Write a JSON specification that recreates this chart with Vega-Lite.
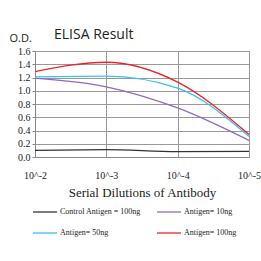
{
  "$schema": "https://vega.github.io/schema/vega-lite/v6.json",
  "width": 214,
  "height": 106,
  "autosize": {"type": "none"},
  "padding": {"left": 35, "top": 51, "right": 12, "bottom": 104},
  "background": "white",
  "title": {"text": "ELISA Result", "font": "Open Sans", "fontSize": 14, "fontWeight": "normal", "color": "#222", "anchor": "start", "dx": 45, "offset": -10},
  "data": {"values": [
    {"d": "10^-2", "s": "Control Antigen = 100ng", "v": 0.10},
    {"d": "10^-3", "s": "Control Antigen = 100ng", "v": 0.11},
    {"d": "10^-4", "s": "Control Antigen = 100ng", "v": 0.08},
    {"d": "10^-5", "s": "Control Antigen = 100ng", "v": 0.085},
    {"d": "10^-2", "s": "Antigen= 10ng", "v": 1.19},
    {"d": "10^-3", "s": "Antigen= 10ng", "v": 1.06},
    {"d": "10^-4", "s": "Antigen= 10ng", "v": 0.74},
    {"d": "10^-5", "s": "Antigen= 10ng", "v": 0.25},
    {"d": "10^-2", "s": "Antigen= 50ng", "v": 1.21},
    {"d": "10^-3", "s": "Antigen= 50ng", "v": 1.22},
    {"d": "10^-4", "s": "Antigen= 50ng", "v": 1.04},
    {"d": "10^-5", "s": "Antigen= 50ng", "v": 0.31},
    {"d": "10^-2", "s": "Antigen= 100ng", "v": 1.29},
    {"d": "10^-3", "s": "Antigen= 100ng", "v": 1.43},
    {"d": "10^-4", "s": "Antigen= 100ng", "v": 1.13},
    {"d": "10^-5", "s": "Antigen= 100ng", "v": 0.34}
  ]},
  "mark": {"type": "line", "interpolate": "monotone", "strokeWidth": 1.3},
  "encoding": {
    "x": {"field": "d", "type": "ordinal", "sort": null,
      "scale": {"type": "point", "padding": 0},
      "axis": {"title": "Serial Dilutions of Antibody", "titleFont": "Liberation Serif", "titleFontSize": 13, "titleFontWeight": "normal", "titleColor": "#222", "titlePadding": 6,
        "labelFont": "Liberation Serif", "labelFontSize": 10, "labelColor": "#222", "labelAngle": 0, "labelPadding": 13,
        "grid": true, "gridColor": "#999", "domainColor": "#888", "ticks": false}},
    "y": {"field": "v", "type": "quantitative",
      "scale": {"domain": [0, 1.6], "nice": false},
      "axis": {"title": "O.D.", "titleAngle": 0, "titleX": -26, "titleY": -13, "titleAlign": "left", "titleBaseline": "middle", "titleFont": "Open Sans", "titleFontSize": 11, "titleFontWeight": "normal", "titleColor": "#222",
        "values": [0, 0.2, 0.4, 0.6, 0.8, 1, 1.2, 1.4, 1.6], "labelFont": "Liberation Serif", "labelFontSize": 10, "labelColor": "#222", "labelPadding": 2,
        "grid": true, "gridColor": "#999", "domainColor": "#888", "tickColor": "#888", "tickSize": 3}},
    "color": {"field": "s", "type": "nominal", "sort": null,
      "scale": {"domain": ["Control Antigen = 100ng", "Antigen= 10ng", "Antigen= 50ng", "Antigen= 100ng"], "range": ["#333333", "#9466c9", "#3cc0ee", "#e8262a"]},
      "legend": {"title": null, "orient": "none", "legendX": -3, "legendY": 148, "columns": 2, "direction": "horizontal",
        "symbolType": "stroke", "symbolSize": 576, "symbolStrokeWidth": 1.3, "labelFont": "Liberation Serif", "labelFontSize": 8, "labelColor": "#222", "labelOffset": 2, "rowPadding": 4, "columnPadding": 13}}
  },
  "config": {"view": {"stroke": "#999"}}
}
